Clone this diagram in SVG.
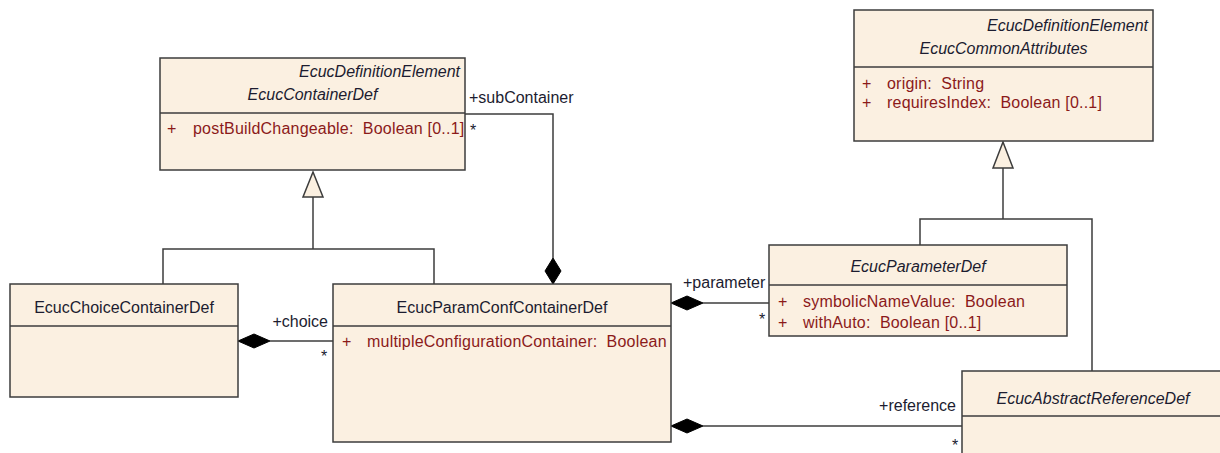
<svg xmlns="http://www.w3.org/2000/svg" width="1220" height="453" viewBox="0 0 1220 453">
  <style>
    .box { fill: #fbf0e1; stroke: #3c3c3c; stroke-width: 1.5; }
    .sep { stroke: #3c3c3c; stroke-width: 1.5; }
    .ln { fill: none; stroke: #3c3c3c; stroke-width: 1.5; }
    .tri { fill: #fbf0e1; stroke: #3c3c3c; stroke-width: 1.5; stroke-linejoin: miter; }
    .dia { fill: #000; stroke: #000; stroke-width: 1; }
    text { font-family: "Liberation Sans", Arial, sans-serif; font-size: 16px; white-space: pre; }
    .title { fill: #1c1c30; text-anchor: middle; }
    .abs { font-style: italic; }
    .stereo { fill: #1c1c30; font-style: italic; text-anchor: end; }
    .attr { fill: #8b1a1a; letter-spacing: 0.2px; }
    .role { fill: #1c1c30; }
  </style>

  <!-- connectors -->
  <g id="connectors">
    <!-- generalization: choice / param-conf containers -> EcucContainerDef -->
    <polyline class="ln" points="163,284 163,249 434,249 434,284"/>
    <line class="ln" x1="313" y1="249" x2="313" y2="197"/>
    <polygon class="tri" points="313,172 303,197 323,197"/>

    <!-- composition: subContainer -->
    <polyline class="ln" points="465,114 553,114 553,258"/>
    <polygon class="dia" points="553,258 561,271 553,284 545,271"/>
    <text class="role" x="469" y="103">+subContainer</text>
    <text class="role" x="473" y="136" text-anchor="middle">*</text>

    <!-- generalization: parameter / reference defs -> EcucCommonAttributes -->
    <line class="ln" x1="1003" y1="168" x2="1003" y2="219"/>
    <polyline class="ln" points="920,245 920,219 1092,219 1092,371"/>
    <polygon class="tri" points="1003,142 993,168 1013,168"/>

    <!-- composition: parameter -->
    <line class="ln" x1="703" y1="303" x2="769" y2="303"/>
    <polygon class="dia" points="671,303 687,296 703,303 687,310"/>
    <text class="role" x="683" y="288">+parameter</text>
    <text class="role" x="762" y="325" text-anchor="middle">*</text>

    <!-- composition: choice -->
    <line class="ln" x1="270" y1="341" x2="333" y2="341"/>
    <polygon class="dia" points="238,341 254,334 270,341 254,348"/>
    <text class="role" x="328" y="327" text-anchor="end">+choice</text>
    <text class="role" x="324" y="362" text-anchor="middle">*</text>

    <!-- composition: reference -->
    <line class="ln" x1="703" y1="426" x2="962" y2="426"/>
    <polygon class="dia" points="671,426 687,419 703,426 687,433"/>
    <text class="role" x="956" y="411" text-anchor="end">+reference</text>
    <text class="role" x="955" y="451" text-anchor="middle">*</text>
  </g>

  <!-- EcucContainerDef -->
  <g id="EcucContainerDef">
    <rect class="box" x="160" y="58" width="305" height="112"/>
    <line class="sep" x1="160" y1="113" x2="465" y2="113"/>
    <text class="stereo" x="460" y="77">EcucDefinitionElement</text>
    <text class="title abs" x="312.5" y="100">EcucContainerDef</text>
    <text class="attr" x="167" y="134">+</text>
    <text class="attr" x="193" y="134">postBuildChangeable:  Boolean [0..1]</text>
  </g>

  <!-- EcucCommonAttributes -->
  <g id="EcucCommonAttributes">
    <rect class="box" x="854" y="10" width="299" height="131"/>
    <line class="sep" x1="854" y1="67" x2="1153" y2="67"/>
    <text class="stereo" x="1148" y="31">EcucDefinitionElement</text>
    <text class="title abs" x="1003.5" y="54">EcucCommonAttributes</text>
    <text class="attr" x="862" y="89">+</text>
    <text class="attr" x="887" y="89">origin:  String</text>
    <text class="attr" x="862" y="108">+</text>
    <text class="attr" x="887" y="108">requiresIndex:  Boolean [0..1]</text>
  </g>

  <!-- EcucChoiceContainerDef -->
  <g id="EcucChoiceContainerDef">
    <rect class="box" x="10" y="284" width="228" height="113"/>
    <line class="sep" x1="10" y1="326" x2="238" y2="326"/>
    <text class="title" x="124" y="313">EcucChoiceContainerDef</text>
  </g>

  <!-- EcucParamConfContainerDef -->
  <g id="EcucParamConfContainerDef">
    <rect class="box" x="333" y="284" width="338" height="158"/>
    <line class="sep" x1="333" y1="326" x2="671" y2="326"/>
    <text class="title" x="502" y="313">EcucParamConfContainerDef</text>
    <text class="attr" x="342" y="347">+</text>
    <text class="attr" x="367" y="347">multipleConfigurationContainer:  Boolean</text>
  </g>

  <!-- EcucParameterDef -->
  <g id="EcucParameterDef">
    <rect class="box" x="769" y="245" width="298" height="91"/>
    <line class="sep" x1="769" y1="285" x2="1067" y2="285"/>
    <text class="title abs" x="918" y="272">EcucParameterDef</text>
    <text class="attr" x="778" y="307">+</text>
    <text class="attr" x="803" y="307">symbolicNameValue:  Boolean</text>
    <text class="attr" x="778" y="328">+</text>
    <text class="attr" x="803" y="328">withAuto:  Boolean [0..1]</text>
  </g>

  <!-- EcucAbstractReferenceDef -->
  <g id="EcucAbstractReferenceDef">
    <rect class="box" x="962" y="371" width="262" height="95"/>
    <line class="sep" x1="962" y1="416" x2="1224" y2="416"/>
    <text class="title abs" x="1093" y="404">EcucAbstractReferenceDef</text>
  </g>
</svg>
